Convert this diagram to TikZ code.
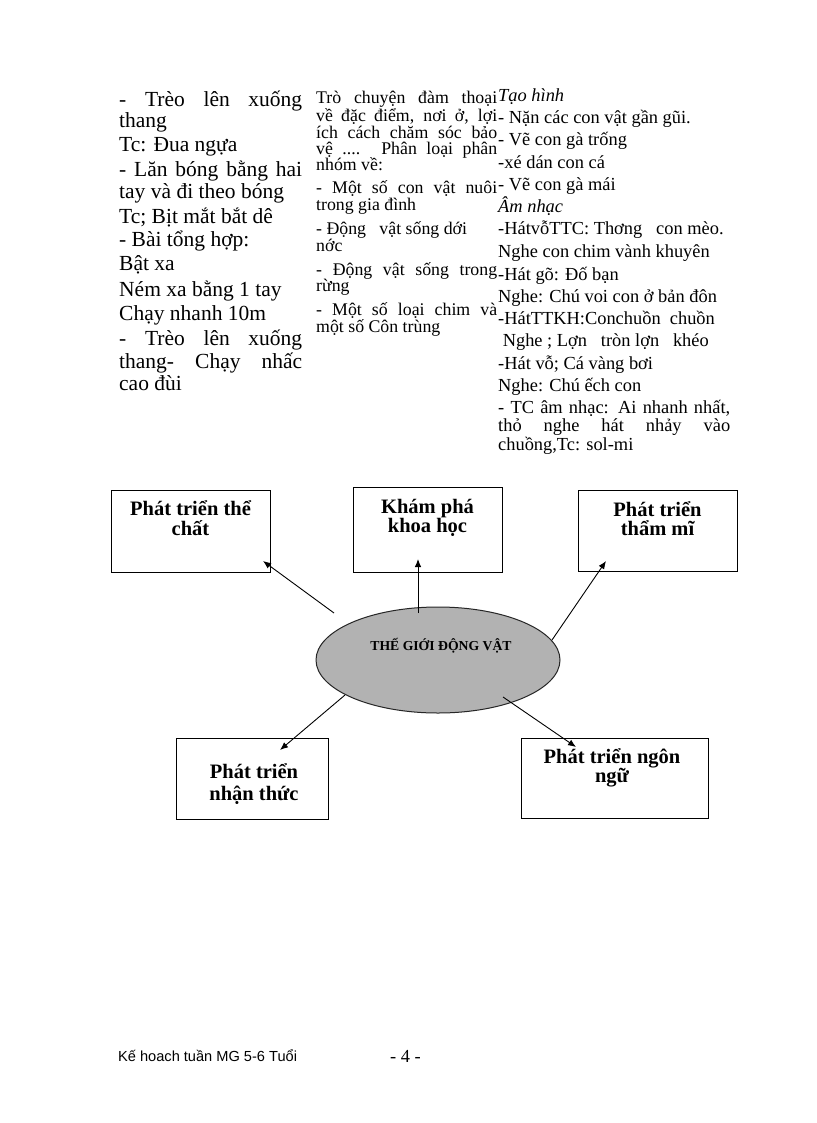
\documentclass[tikz,border=0pt]{standalone}
\usepackage{fontspec}
\setmainfont{Liberation Serif}
\newfontfamily\footsans{Liberation Sans}
\usetikzlibrary{shapes.geometric,arrows.meta}
\newcommand{\jl}[2]{\makebox[#1pt][s]{#2}}
\begin{document}
\begin{tikzpicture}[x=1pt,y=-1pt,
  cola/.style={anchor=base west,inner sep=0pt,font=\fontsize{21.5}{24}\selectfont},
  colb/.style={anchor=base west,inner sep=0pt,font=\fontsize{17.8}{19}\selectfont},
  colc/.style={anchor=base west,inner sep=0pt,font=\fontsize{18.4}{20}\selectfont},
  box/.style={draw=black,line width=1.2pt,rectangle,inner sep=0pt,anchor=north west},
  boxtxt/.style={anchor=base,inner sep=0pt,font=\bfseries\fontsize{20.5}{22}\selectfont},
  conn/.style={line width=0.9pt,-{Latex[length=8pt,width=6.5pt]}}]
\useasboundingbox[fill=white] (0,0) rectangle (816,1123);
% column 1
\node[cola] (a1) at (119,106.7) {\jl{183}{- Trèo lên xuống}};
\node[cola] (a2) at (119,127.7) {thang};
\node[cola] (a3) at (119,151.7) {Tc: Đua ngựa};
\node[cola] (a4) at (119,176.7) {\jl{183}{- Lăn bóng bằng hai}};
\node[cola] (a5) at (119,199) {tay và đi theo bóng};
\node[cola] (a6) at (119,223.3) {Tc; Bịt mắt bắt dê};
\node[cola] (a7) at (119,246.7) {- Bài tổng hợp:};
\node[cola] (a8) at (119,270) {Bật xa};
\node[cola] (a9) at (119,296.7) {Ném xa bằng 1 tay};
\node[cola] (a10) at (119,320) {Chạy nhanh 10m};
\node[cola] (a11) at (119,345) {\jl{183}{- Trèo lên xuống}};
\node[cola] (a12) at (119,368.3) {\jl{183}{thang- Chạy nhấc}};
\node[cola] (a13) at (119,390.5) {cao đùi};
% column 2
\node[colb] (b1) at (316,104) {\jl{181}{Trò chuyện đàm thoại}};
\node[colb] (b2) at (316,121.7) {\jl{181}{về đặc điểm, nơi ở, lợi}};
\node[colb] (b3) at (316,138.3) {\jl{181}{ích cách chăm sóc bảo}};
\node[colb] (b4) at (316,155) {\jl{181}{vệ .... Phân loại phân}};
\node[colb] (b5) at (316,170.7) {nhóm về:};
\node[colb] (b6) at (316,193.3) {\jl{181}{- Một số con vật nuôi}};
\node[colb] (b7) at (316,211) {trong gia đình};
\node[colb] (b8) at (316,234.3) {- Động\ \ \ vật sống dới};
\node[colb] (b9) at (316,251.7) {nớc};
\node[colb] (b10) at (316,275) {\jl{181}{- Động vật sống trong}};
\node[colb] (b11) at (316,291.7) {rừng};
\node[colb] (b12) at (316,315) {\jl{181}{- Một số loại chim và}};
\node[colb] (b13) at (316,332.3) {một số Côn trùng};
% column 3
\node[colc] (c1) at (498,101.7) {\itshape Tạo hình};
\node[colc] (c2) at (498,124) {- Nặn các con vật gần gũi.};
\node[colc] (c3) at (498,146) {- Vẽ con gà trống};
\node[colc] (c4) at (498,168.3) {-xé dán con cá};
\node[colc] (c5) at (498,191) {- Vẽ con gà mái};
\node[colc] (c6) at (498,212.3) {\itshape Âm nhạc};
\node[colc] (c7) at (498,235) {-HátvỗTTC: Thơng\ \ \ con mèo.};
\node[colc] (c8) at (498,257.7) {Nghe con chim vành khuyên};
\node[colc] (c9) at (498,280) {-Hát gõ: Đố bạn};
\node[colc] (c10) at (498,302.3) {Nghe: Chú voi con ở bản đôn};
\node[colc] (c11) at (498,324.3) {-HátTTKH:Conchuồn\ \ chuồn};
\node[colc] (c12) at (498,346.7) {\ Nghe ; Lợn\ \ \ tròn lợn\ \ \ khéo};
\node[colc] (c13) at (498,369.3) {-Hát vỗ; Cá vàng bơi};
\node[colc] (c14) at (498,391.7) {Nghe: Chú ếch con};
\node[colc] (c15) at (498,413.3) {\jl{232}{- TC âm nhạc: Ai nhanh nhất,}};
\node[colc] (c16) at (498,431.7) {\jl{232}{thỏ nghe hát nhảy vào}};
\node[colc] (c17) at (498,450) {chuồng,Tc: sol-mi};
% diagram boxes
\node[box,minimum width=159pt,minimum height=82pt] (p1) at (111,490) {};
\node[boxtxt] (p1a) at (190.5,515) {Phát triển thể};
\node[boxtxt] (p1b) at (190.5,535) {chất};
\node[box,minimum width=149pt,minimum height=85pt] (p2) at (353,487) {};
\node[boxtxt] (p2a) at (427.5,513) {Khám phá};
\node[boxtxt] (p2b) at (427.5,532) {khoa học};
\node[box,minimum width=159pt,minimum height=81pt] (p3) at (578,490) {};
\node[boxtxt] (p3a) at (657.5,516.7) {Phát triển};
\node[boxtxt] (p3b) at (657.5,535.5) {thẩm mĩ};
\node[box,minimum width=152pt,minimum height=81pt] (p4) at (176,738) {};
\node[boxtxt] (p4a) at (254,778.3) {Phát triển};
\node[boxtxt] (p4b) at (254,800) {nhận thức};
\node[box,minimum width=187pt,minimum height=80pt] (p5) at (521,738) {};
\node[boxtxt] (p5a) at (612,763.3) {Phát triển ngôn};
\node[boxtxt] (p5b) at (612,782.5) {ngữ};
% ellipse
\node[ellipse,draw=black!85,line width=1pt,fill=black!30,minimum width=244pt,minimum height=106pt,inner sep=0pt] (ell) at (438,660) {};
\node[anchor=base,inner sep=0pt,font=\bfseries\fontsize{13.7}{15}\selectfont] (elltxt) at (441,650) {THẾ GIỚI ĐỘNG VẬT};
% connector ends
\coordinate (s1) at (334,613);
\coordinate (t1) at (263,561);
\coordinate (s2) at (418,613);
\coordinate (t2) at (418,559);
\coordinate (s3) at (552,640);
\coordinate (t3) at (606,561);
\coordinate (s4) at (345,695);
\coordinate (t4) at (280,750);
\coordinate (s5) at (503,697);
\coordinate (t5) at (576,747);
\draw[conn] (s1) -- (t1);
\draw[conn] (s2) -- (t2);
\draw[conn] (s3) -- (t3);
\draw[conn] (s4) -- (t4);
\draw[conn] (s5) -- (t5);
% footer
\node[anchor=base west,inner sep=0pt,font=\footsans\fontsize{14.6}{16}\selectfont] (foot) at (118,1061.7) {Kế hoach tuần MG 5-6 Tuổi};
\node[anchor=base west,inner sep=0pt,font=\fontsize{18.4}{20}\selectfont] (pg) at (390,1062) {- 4 -};
\end{tikzpicture}
\end{document}
